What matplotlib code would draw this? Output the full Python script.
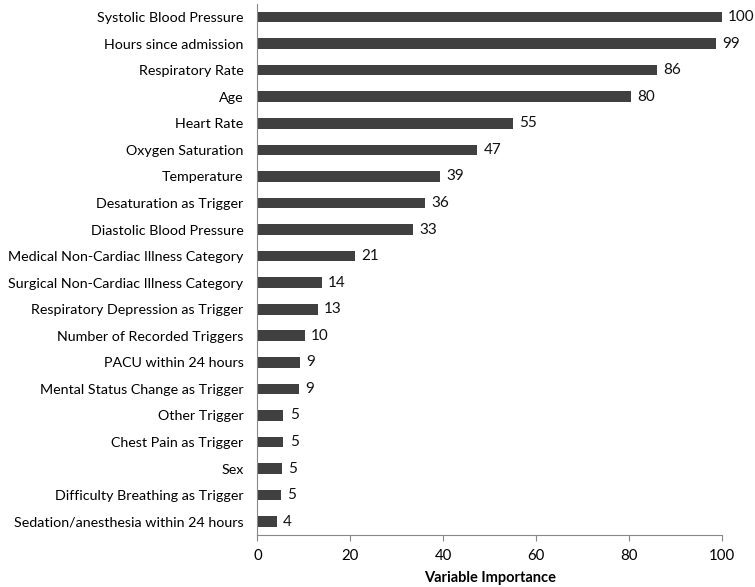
import matplotlib
matplotlib.use("Agg")
from matplotlib import pyplot as plt

plt.rcParams['font.family'] = ['Lato', 'DejaVu Sans']

# variables, top to bottom
features = ["Systolic Blood Pressure", "Hours since admission", "Respiratory Rate", "Age",
            "Heart Rate", "Oxygen Saturation", "Temperature", "Desaturation as Trigger",
            "Diastolic Blood Pressure", "Medical Non-Cardiac Illness Category",
            "Surgical Non-Cardiac Illness Category", "Respiratory Depression as Trigger",
            "Number of Recorded Triggers", "PACU within 24 hours",
            "Mental Status Change as Trigger", "Other Trigger", "Chest Pain as Trigger",
            "Sex", "Difficulty Breathing as Trigger", "Sedation/anesthesia within 24 hours"]
importance = [100, 98.8, 86.1, 80.4, 55.0, 47.3, 39.3, 36.1, 33.5, 21.0,
              13.8, 13.0, 10.2, 9.2, 8.9, 5.6, 5.6, 5.3, 5.1, 4.2]
labels = [100, 99, 86, 80, 55, 47, 39, 36, 33, 21, 14, 13, 10, 9, 9, 5, 5, 5, 5, 4]

fig = plt.figure(figsize=(7.55, 5.87), dpi=100)
ax = fig.add_axes([0.341, 0.0886, 0.615, 0.905])

pos = list(range(len(features)))[::-1]
bars = ax.barh(pos, importance, height=0.4, color='#404040')
for rect, lab in zip(bars, labels):
    ax.annotate(str(lab), (rect.get_width(), rect.get_y() + rect.get_height() / 2),
                xytext=(4.5, 0), textcoords='offset points', va='center', ha='left',
                fontsize=11, color='#111111')

ax.set_yticks(pos)
ax.set_yticklabels(features, fontsize=10.3)
ax.set_ylim(-0.5, len(features) - 0.5)
ax.set_xlim(0, 100)
ax.set_xticks([0, 20, 40, 60, 80, 100])
ax.tick_params(axis='x', labelsize=10.8, length=4, color='#888888', pad=6)
ax.tick_params(axis='y', length=0, pad=10)
for s in ['top', 'right']:
    ax.spines[s].set_visible(False)
for s in ['left', 'bottom']:
    ax.spines[s].set_color('#888888')
ax.set_xlabel("Variable Importance", fontsize=10.5, fontweight='bold', labelpad=6)

plt.savefig("out.png", dpi=100)
